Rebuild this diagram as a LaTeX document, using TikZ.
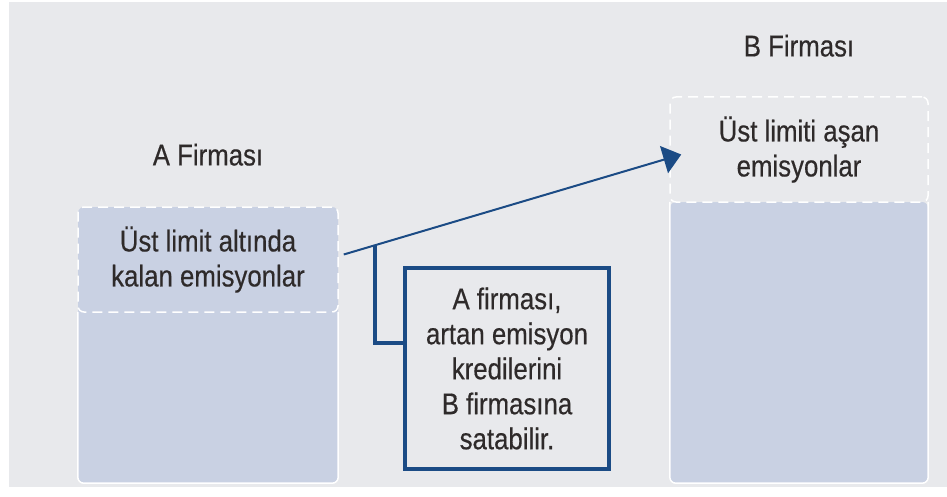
\documentclass[tikz,border=0pt]{standalone}
\usepackage{fontspec}
\setmainfont{Liberation Sans}[FakeStretch=0.86, FakeBold=0.4]
\usetikzlibrary{positioning,arrows.meta}
\definecolor{bgGrey}{RGB}{232,233,236}
\definecolor{barBlue}{RGB}{201,209,227}
\definecolor{lineBlue}{RGB}{27,75,133}
\definecolor{txtGrey}{RGB}{46,42,42}

\begin{document}
\begin{tikzpicture}[x=1pt, y=-1pt,
  every node/.style={font=\fontsize{30}{35}\selectfont, text=txtGrey},
  base/.style={fill=barBlue, rounded corners=6pt, inner sep=0pt},
  rim/.style={draw=white, line width=1.5pt, rounded corners=6pt},
  upper/.style={draw=white, line width=1.5pt, dash pattern=on 10pt off 6pt,
    rounded corners=6pt, minimum height=105pt, align=center, inner sep=0pt},
  note/.style={draw=lineBlue, line width=3.5pt, fill=bgGrey, minimum width=204pt,
    minimum height=201pt, align=center},
  flow/.style={draw=lineBlue, line width=2pt, -{Triangle[length=18pt, width=28pt]}},
  bracket/.style={draw=lineBlue, line width=4pt}]
  \useasboundingbox (0,0) rectangle (947,497);
  \fill[white] (0,0) rectangle (947,497);
  \fill[bgGrey] (9,2) rectangle (947,487);

  % firm A
  \node[base, minimum width=260pt, minimum height=276pt] (aBase) at (208,345) {};
  \draw[rim] ([yshift=-105pt]aBase.north west) -- (aBase.south west)
    -- (aBase.south east) -- ([yshift=-105pt]aBase.north east);
  \node[upper, minimum width=260pt] (aTop) at (208,259.5)
    {Üst limit altında\\kalan emisyonlar};
  \node[above=37pt of aTop] (labelA) {A Firması};

  % firm B
  \node[base, minimum width=258pt, minimum height=281pt] (bBase) at (799,342.5) {};
  \draw[rim] (bBase.north west) -- (bBase.south west)
    -- (bBase.south east) -- (bBase.north east);
  \node[upper, minimum width=258pt, fill=bgGrey] (bTop) at (799,149.5)
    {Üst limiti aşan\\emisyonlar};
  \node[above=36pt of bTop] (labelB) {B Firması};

  % sale
  \node[note] (note) at (507,368.5)
    {A firması,\\artan emisyon\\kredilerini\\B firmasına\\satabilir.};
  \draw[flow] ([shift={(5pt,5pt)}]aTop.east)
    -- coordinate[pos=0.094] (tap) ([shift={(12pt,-5pt)}]bTop.west);
  \draw[bracket] (tap) |- ([yshift=26pt]note.west);
\end{tikzpicture}
\end{document}
